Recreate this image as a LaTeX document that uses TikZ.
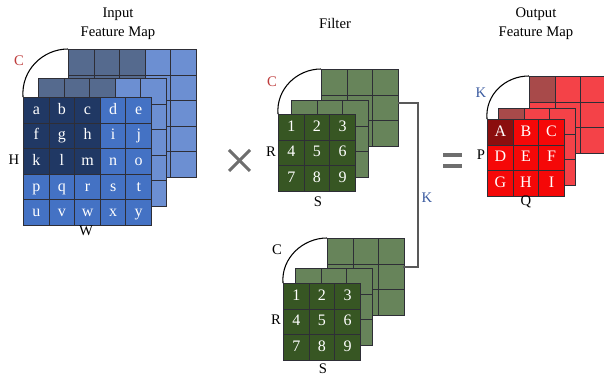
\documentclass[tikz,border=0pt]{standalone}
\usepackage{fontspec}
\setmainfont{Liberation Serif}

\definecolor{indark}{HTML}{203864}
\definecolor{inlight}{HTML}{4472C4}
\definecolor{inback}{HTML}{6C8FD2}
\definecolor{ingray}{HTML}{556A8E}
\definecolor{filfront}{HTML}{375623}
\definecolor{filback}{HTML}{67845A}
\definecolor{outfront}{HTML}{F50808}
\definecolor{outdark}{HTML}{8B0E0E}
\definecolor{outback}{HTML}{F44248}
\definecolor{outbrown}{HTML}{A84A4A}
\definecolor{labred}{HTML}{BE3C3C}
\definecolor{labblue}{HTML}{3B5BA0}
\definecolor{symgray}{HTML}{6E6E6E}
\definecolor{gridline}{HTML}{2E2E36}

\tikzset{
  cell/.style={draw=gridline, line width=0.8pt, minimum size=19.2pt, inner sep=0pt,
    anchor=north west, text=white, text height=1.55ex, text depth=0.25ex,
    font=\fontsize{12}{14}\selectfont},
  lbl/.style={font=\fontsize{11}{14.2}\selectfont, inner sep=0pt, align=center},
  chanarc/.style={line width=0.8pt, black},
  kline/.style={line width=0.9pt, black!65},
  sym/.style={line width=2.3pt, symgray}
}

\begin{document}
\begin{tikzpicture}[x=0.75pt,y=-0.75pt]
\useasboundingbox (0,0) rectangle (604,377);

% Input feature map
\foreach \lx/\ly/\nm in {68/49/in-b, 38/78/in-m} {
  \fill[inback] (\lx,\ly) rectangle ++(128,128);
  \fill[ingray] (\lx,\ly) rectangle ++(76.8,76.8);
  \foreach \r in {0,...,4}
    \foreach \c in {0,...,4}
      \node[cell] (\nm-\r-\c) at (\lx+\c*25.6, \ly+\r*25.6) {};
}
\fill[inlight] (23,97) rectangle ++(128,128);
\fill[indark] (23,97) rectangle ++(76.8,76.8);
\foreach \row [count=\r from 0] in {{a,b,c,d,e},{f,g,h,i,j},{k,l,m,n,o},{p,q,r,s,t},{u,v,w,x,y}}
  \foreach \t [count=\c from 0] in \row
    \node[cell] (in-f-\r-\c) at (23+\c*25.6, 97+\r*25.6) {\t};
\draw[chanarc] (in-f-0-0.north west) .. controls +(-2,-27) and +(-25,0) .. (in-b-0-0.north west);

\node[lbl] (intitle) at (118,24) {Input\\Feature Map};
\node[lbl, labred] (inC) at (19,61) {C};
\node[lbl] (inH) at (14,160) {H};
\node[lbl] (inW) at (86,231) {W};

% Filters
\foreach \lx/\ly/\nm in {321/69/ft-b, 291/100/ft-m, 327/238/fb-b, 295/268/fb-m} {
  \fill[filback] (\lx,\ly) rectangle ++(76.8,76.8);
  \foreach \r in {0,...,2}
    \foreach \c in {0,...,2}
      \node[cell] (\nm-\r-\c) at (\lx+\c*25.6, \ly+\r*25.6) {};
}
\foreach \lx/\ly/\nm in {278/114/ft-f, 283/283/fb-f} {
  \fill[filfront] (\lx,\ly) rectangle ++(76.8,76.8);
  \foreach \row [count=\r from 0] in {{1,2,3},{4,5,6},{7,8,9}}
    \foreach \t [count=\c from 0] in \row
      \node[cell] (\nm-\r-\c) at (\lx+\c*25.6, \ly+\r*25.6) {\t};
}
\draw[chanarc] (ft-f-0-0.north west) .. controls +(-2,-25) and +(-24,0) .. (ft-b-0-0.north west);
\draw[chanarc] (fb-f-0-0.north west) .. controls +(-2,-25) and +(-24,0) .. (fb-b-0-0.north west);

\node[lbl] (filtitle) at (335,23) {Filter};
\node[lbl, labred] (ftC) at (272,82) {C};
\node[lbl] (ftR) at (271,152) {R};
\node[lbl] (ftS) at (318,202) {S};
\node[lbl] (fbC) at (277,250) {C};
\node[lbl] (fbR) at (276,320) {R};
\node[lbl] (fbS) at (323,369) {S};

% K connector between the filters
\coordinate (k1) at (398,103);
\coordinate (k2) at (403,267);
\draw[kline] (k1) -- ++(20,0) |- (k2);
\node[lbl, labblue] (filK) at (427,198) {K};

% Output feature map
\foreach \lx/\ly/\nm in {529/76/out-b, 498/108/out-m} {
  \fill[outback] (\lx,\ly) rectangle ++(76.8,76.8);
  \fill[outbrown] (\lx,\ly) rectangle ++(25.6,25.6);
  \foreach \r in {0,...,2}
    \foreach \c in {0,...,2}
      \node[cell] (\nm-\r-\c) at (\lx+\c*25.6, \ly+\r*25.6) {};
}
\fill[outfront] (487,119) rectangle ++(76.8,76.8);
\fill[outdark] (487,119) rectangle ++(25.6,25.6);
\foreach \row [count=\r from 0] in {{A,B,C},{D,E,F},{G,H,I}}
  \foreach \t [count=\c from 0] in \row
    \node[cell] (out-f-\r-\c) at (487+\c*25.6, 119+\r*25.6) {\t};
\draw[chanarc] (out-f-0-0.north west) .. controls +(-2,-24) and +(-24,0) .. (out-b-0-0.north west);

\node[lbl] (outtitle) at (536,24) {Output\\Feature Map};
\node[lbl, labblue] (outK) at (481,93) {K};
\node[lbl] (outP) at (481,155) {P};
\node[lbl] (outQ) at (526,202) {Q};

% times and equals signs
\coordinate (tm) at (239.5,160.5);
\draw[sym] (tm) ++(-10.5,-10.5) -- ++(21,21);
\draw[sym] (tm) ++(-10.5,10.5) -- ++(21,-21);
\coordinate (eq) at (452.5,160.5);
\draw[sym, line width=2.6pt] (eq) ++(-9.5,-5.5) -- ++(19,0);
\draw[sym, line width=2.6pt] (eq) ++(-9.5,5.5) -- ++(19,0);

\end{tikzpicture}
\end{document}
